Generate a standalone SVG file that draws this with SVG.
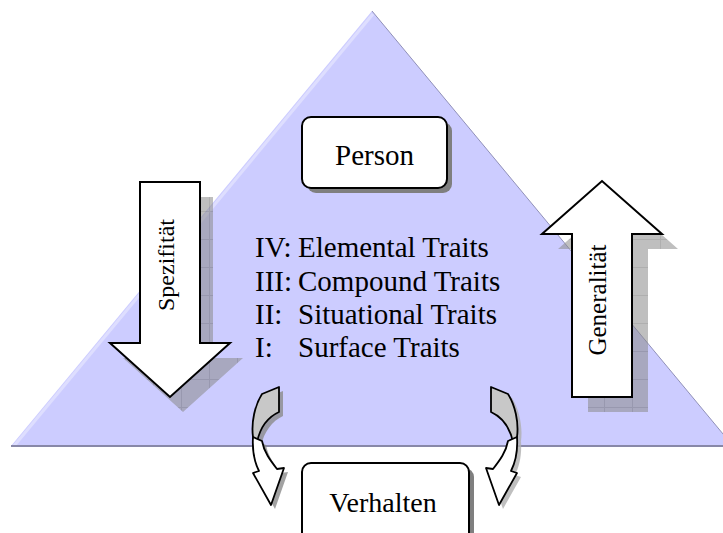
<svg xmlns="http://www.w3.org/2000/svg" width="723" height="533" viewBox="0 0 723 533">
<defs>
<pattern id="grid" patternUnits="userSpaceOnUse" width="28" height="28">
<rect width="28" height="28" fill="#8a8a8a"/>
<path d="M0,0.5 H28 M0.5,0 V28" stroke="#6e6e6e" stroke-width="1"/>
</pattern>
<path id="cgray" d="M262,394 L279,387 L279,412 C268,417 260,428 257,442 L253,437 C251,422 255,405 262,394 Z"/>
<path id="cwhite" d="M253,437 C252,452 255,463 259,471 L253,473 L271,505 L284,468 L277,469 C270,460 264,452 262,441 Z"/>
</defs>
<style>
.t{font-family:"Liberation Serif","Times New Roman",serif;fill:#000}
.box{fill:#fff;stroke:#000;stroke-width:2}
.shd{fill:#7f7f7f}
.big{fill:#fff;stroke:#000;stroke-width:2;stroke-linejoin:miter}
.bshd{fill:url(#grid);opacity:0.55}
.cv{stroke:#000;stroke-width:1.8;stroke-linejoin:round}
</style>
<rect width="723" height="533" fill="#fff"/>
<g id="triangle">
<polygon points="372,11 11,446 733,446" fill="#ccccff"/>
<line x1="373" y1="14" x2="14" y2="446" stroke="#dedeff" stroke-width="3"/>
<line x1="372" y1="11" x2="733" y2="446" stroke="#9090b8" stroke-width="1"/>
<line x1="11" y1="446" x2="723" y2="446" stroke="#8888a8" stroke-width="2"/>
</g>
<g id="spezifitaet">
<path class="bshd" transform="translate(13,15)" d="M140,182 L200,182 L200,343 L230,343 L170,397 L110,343 L140,343 Z"/>
<path class="big" d="M140,182 L200,182 L200,343 L230,343 L170,397 L110,343 L140,343 Z"/>
<text class="t" font-size="24" text-anchor="middle" transform="translate(174,265) rotate(-90)">Spezifität</text>
</g>
<g id="generalitaet">
<path class="bshd" transform="translate(16,15)" d="M572,397 L632,397 L632,234 L662,234 L602,181 L542,234 L572,234 Z"/>
<path class="big" d="M572,397 L632,397 L632,234 L662,234 L602,181 L542,234 L572,234 Z"/>
<text class="t" font-size="25" text-anchor="middle" transform="translate(606,300) rotate(-90)">Generalität</text>
</g>
<g id="person">
<rect class="shd" x="307" y="122" width="145" height="71" rx="9"/>
<rect class="box" x="302" y="117" width="145" height="71" rx="9"/>
<text class="t" font-size="29" x="374.5" y="165" text-anchor="middle">Person</text>
</g>
<g id="traits" class="t" font-size="29">
<text x="255" y="257">IV:</text><text x="298" y="257">Elemental Traits</text>
<text x="255" y="291">III:</text><text x="298" y="291">Compound Traits</text>
<text x="255" y="324">II:</text><text x="298" y="324">Situational Traits</text>
<text x="255" y="357">I:</text><text x="298" y="357">Surface Traits</text>
</g>
<g id="verhalten">
<rect class="shd" x="307" y="468" width="167" height="80" rx="9"/>
<rect class="box" x="302" y="463" width="167" height="80" rx="9"/>
<text class="t" font-size="28" x="383" y="512" text-anchor="middle">Verhalten</text>
</g>
<g id="connectors">
<g id="curve-left">
<g transform="translate(4,4)" fill="#8c8c8c" opacity="0.8">
<use href="#cgray"/><use href="#cwhite"/>
</g>
<use href="#cgray" class="cv" fill="#c8c8c8"/>
<use href="#cwhite" class="cv" fill="#fff"/>
</g>
<g id="curve-right" transform="translate(770,0) scale(-1,1)">
<g transform="translate(-4,4)" fill="#b0b0b0" opacity="0.8">
<use href="#cgray"/><use href="#cwhite"/>
</g>
<use href="#cgray" class="cv" fill="#c8c8c8"/>
<use href="#cwhite" class="cv" fill="#fff"/>
</g>
</g>
</svg>
